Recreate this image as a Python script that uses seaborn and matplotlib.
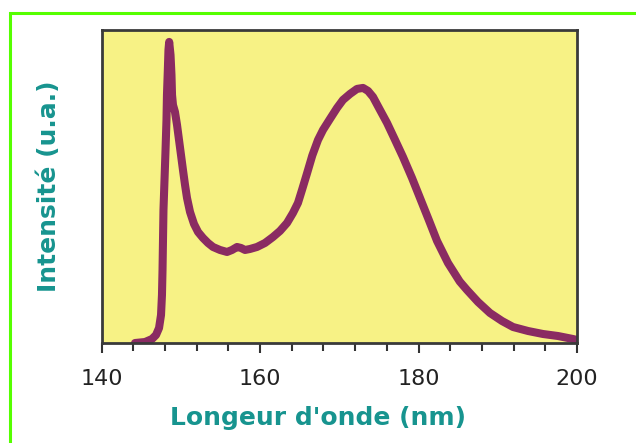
import matplotlib
matplotlib.use("Agg")
import matplotlib.pyplot as plt
import seaborn as sns
import pandas as pd
from matplotlib.patches import Rectangle

wavelength_nm = [144.23, 145.49, 146.37, 146.88, 147.26, 147.51, 147.63, 147.70, 147.76, 147.82,
                 147.95, 148.08, 148.20, 148.26, 148.37, 148.45, 148.54, 148.71, 148.83, 148.90,
                 149.02, 149.27, 149.53, 149.78, 150.03, 150.28, 150.54, 150.79, 151.17, 151.67,
                 152.18, 152.81, 153.44, 154.07, 154.95, 155.84, 156.47, 157.10, 157.60, 158.11,
                 158.74, 159.62, 160.63, 161.64, 162.52, 163.41, 164.16, 164.79, 165.30, 165.93,
                 166.60, 167.32, 167.95, 168.83, 169.72, 170.47, 171.36, 172.24, 173.00, 173.63,
                 174.26, 175.14, 176.03, 177.04, 178.04, 179.18, 180.19, 181.30, 182.34, 183.72,
                 185.20, 186.12, 187.51, 189.02, 190.54, 191.93, 193.82, 195.71, 197.60, 199.50,
                 200.0]
intensity = [0.0, 0.33, 1.33, 2.67, 5.0, 9.33, 16.0, 24.33, 34.33, 44.33,
             54.33, 64.33, 74.33, 82.67, 91.0, 97.67, 100.33, 96.0, 89.33, 82.67,
             79.33, 77.0, 72.67, 67.67, 62.67, 57.67, 52.67, 48.33, 43.67, 39.67,
             37.0, 35.0, 33.33, 32.0, 31.0, 30.33, 31.0, 32.0, 31.67, 31.0,
             31.33, 32.0, 33.33, 35.33, 37.33, 40.0, 43.33, 46.67, 51.0, 56.5,
             62.5, 67.67, 71.0, 74.67, 78.33, 81.0, 83.0, 84.67, 85.0, 84.0,
             82.0, 77.67, 73.33, 67.67, 62.0, 55.0, 48.33, 41.0, 34.0, 26.67,
             20.5, 17.67, 13.67, 10.0, 7.33, 5.33, 4.0, 3.0, 2.33, 1.33,
             1.0]
x_ticks = [140, 160, 180, 200]
x_label = "Longeur d'onde (nm)"
y_label = "Intensité (u.a.)"

sns.set_theme(style="white")
plt.rcParams['font.family'] = ['DejaVu Sans']

df = pd.DataFrame({"wl": wavelength_nm, "I": intensity})

fig = plt.figure(figsize=(6.36, 4.43), dpi=100, facecolor="white")
fig.patches.append(Rectangle((9.5 / 636, -0.2), 1.0, 1.2 - 13 / 443, transform=fig.transFigure,
                             fill=False, edgecolor="#55ff00", linewidth=2.2, zorder=0))
ax = fig.add_axes([101.5 / 636, 100 / 443, (577 - 101.5) / 636, 313 / 443])
ax.set_facecolor("#f7f285")

sns.lineplot(data=df, x="wl", y="I", sort=False, ax=ax, color="#8a2b62",
             linewidth=5.8, solid_capstyle="round", solid_joinstyle="round")

ax.set_xlim(140, 200)
ax.set_ylim(0, 104.3)
ax.set_xticks(x_ticks)
ax.set_xticks(list(range(140, 201, 4)), minor=True)
ax.set_yticks([])
ax.tick_params(axis="x", which="major", direction="out", length=7, width=1.5,
               color="#333333", labelsize=16, labelcolor="#222222", pad=12, bottom=True)
ax.tick_params(axis="x", which="minor", direction="out", length=6, width=1.5,
               color="#333333", bottom=True)
for s in ax.spines.values():
    s.set_color("#3a3a3a")
    s.set_linewidth(2)

ax.set_xlabel(x_label, fontsize=18, fontweight="bold", color="#17948f")
ax.xaxis.set_label_coords((318 - 101.5) / (577 - 101.5), -0.2)
ax.set_ylabel(y_label, fontsize=18, fontweight="bold", color="#17948f")
ax.yaxis.set_label_coords(-(101.5 - 61) / (577 - 101.5), 0.5)

fig.savefig("out.png", dpi=100, facecolor="white")
